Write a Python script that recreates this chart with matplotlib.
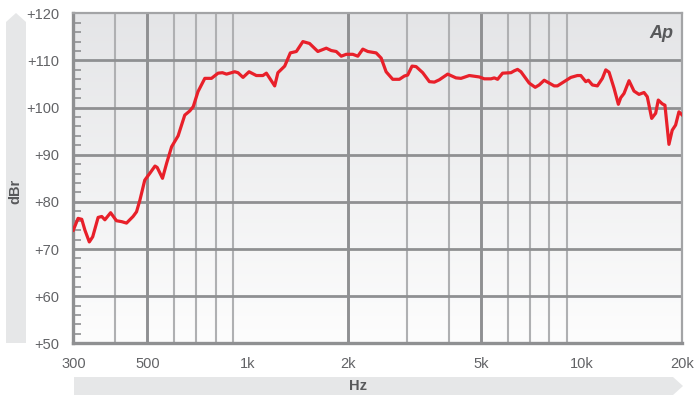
import numpy as np
import matplotlib
matplotlib.use("Agg")
import matplotlib.pyplot as plt
from matplotlib.patches import Polygon
from matplotlib.ticker import FixedLocator, NullLocator

plt.rcParams['font.family'] = ['Liberation Sans', 'DejaVu Sans']

# measured response (Hz, dBr)
freq = [300, 310, 318, 325, 335, 343, 356, 365, 373, 388, 404, 419, 433, 453, 464,
        475, 491, 509, 527, 535, 555, 571, 591, 618, 647, 670, 686, 709, 743, 778,
        814, 839, 863, 913, 934, 967, 1008, 1060, 1109, 1136, 1203, 1230, 1289,
        1340, 1397, 1461, 1530, 1620, 1717, 1777, 1839, 1904, 1970, 2062, 2134,
        2209, 2286, 2422, 2507, 2594, 2715, 2843, 2943, 3010, 3102, 3189, 3339,
        3496, 3618, 3745, 3966, 4200, 4348, 4604, 4932, 5106, 5347, 5470, 5596,
        5791, 6136, 6279, 6421, 6573, 6957, 7252, 7454, 7716, 7987, 8266, 8454,
        8854, 9271, 9703, 9932, 10279, 10465, 10757, 11134, 11527, 11799, 12069,
        12491, 12868, 13082, 13381, 13851, 14335, 14838, 15358, 15709, 16193,
        16644, 16946, 17416, 17744, 18241, 18657, 19099, 19540, 20000]
level = [74.0, 76.5, 76.3, 74.0, 71.5, 72.6, 76.7, 76.9, 76.2, 77.7, 76.0, 75.8,
         75.5, 76.9, 77.9, 80.4, 84.6, 86.1, 87.6, 87.3, 85.0, 88.2, 91.7, 94.0,
         98.4, 99.3, 100.2, 103.4, 106.2, 106.2, 107.3, 107.4, 107.1, 107.6, 107.4,
         106.4, 107.6, 106.8, 106.8, 107.3, 104.6, 107.4, 108.8, 111.6, 111.9,
         114.0, 113.6, 111.9, 112.6, 112.1, 111.9, 110.9, 111.3, 111.3, 110.9,
         112.4, 111.9, 111.6, 110.5, 107.6, 106.0, 106.0, 106.7, 106.9, 108.8,
         108.7, 107.4, 105.5, 105.4, 105.9, 107.1, 106.3, 106.2, 106.8, 106.5,
         106.1, 106.1, 106.3, 106.0, 107.3, 107.4, 107.8, 108.1, 107.6, 105.2,
         104.3, 104.8, 105.8, 105.2, 104.6, 104.6, 105.5, 106.4, 106.8, 106.8,
         105.5, 105.8, 104.8, 104.6, 106.2, 108.0, 107.5, 104.1, 100.7, 102.1,
         103.0, 105.7, 103.5, 102.8, 103.2, 102.3, 97.7, 98.8, 101.6, 100.8,
         100.5, 92.2, 95.2, 96.3, 99.1, 98.4]

x_ticks = [300, 500, 1000, 2000, 5000, 10000, 20000]
x_labels = ['300', '500', '1k', '2k', '5k', '10k', '20k']
y_ticks = [50, 60, 70, 80, 90, 100, 110, 120]
y_labels = ['+%d' % v for v in y_ticks]

W, H = 695, 396
fig = plt.figure(figsize=(W / 100, H / 100), dpi=100)
fig.patch.set_facecolor('white')

# plot area placed in pixels
x0, x1, y0, y1 = 73.3, 682.3, 13.3, 343.3
ax = fig.add_axes([x0 / W, 1 - y1 / H, (x1 - x0) / W, (y1 - y0) / H])
ax.set_xscale('log')
ax.set_xlim(300, 20000)
ax.set_ylim(50, 120)

# soft vertical gradient behind the grid
grad = np.linspace(0, 1, 256).reshape(-1, 1)
top = np.array([0.895, 0.898, 0.906])
bot = np.array([0.992, 0.992, 0.992])
img = top + (bot - top) * grad[:, :, None] * np.ones((1, 1, 3))
ax.imshow(img, extent=[0, 1, 0, 1], transform=ax.transAxes, aspect='auto', zorder=0)

light = '#afb0b2'
dark = '#8f9092'
for d in [100, 1000, 10000]:
    for m in range(2, 10):
        f = d * m
        if f <= 300 or f >= 20000:
            continue
        if f in (1000, 10000):
            ax.axvline(f, color=dark, lw=2.4, zorder=1)
        elif f in (500, 2000, 5000):
            ax.axvline(f, color=dark, lw=2.1, zorder=1)
        else:
            ax.axvline(f, color=light, lw=1.5, zorder=1)
for v in y_ticks[1:-1]:
    ax.axhline(v, color=dark, lw=2.0, zorder=1)

ax.plot(freq, level, color='#e8202a', lw=2.3, solid_joinstyle='round', zorder=3)

for side in ['left', 'bottom']:
    ax.spines[side].set_color(dark)
    ax.spines[side].set_linewidth(2.4)
for side in ['top', 'right']:
    ax.spines[side].set_color('#a3a4a6')
    ax.spines[side].set_linewidth(1.6)

ax.xaxis.set_major_locator(FixedLocator(x_ticks))
ax.xaxis.set_minor_locator(NullLocator())
ax.set_xticklabels(x_labels)
ax.set_yticks(y_ticks)
ax.set_yticklabels(y_labels)
ax.yaxis.set_minor_locator(FixedLocator([v for v in range(50, 121, 2) if v % 10]))
ax.tick_params(axis='both', which='major', length=0, labelsize=10.5,
               labelcolor='#626366')
ax.tick_params(axis='x', pad=10)
ax.tick_params(axis='y', pad=10)
ax.tick_params(axis='y', which='minor', direction='in', length=6, width=1.2,
               color=dark, left=True, right=False)

ax.text(0.985, 0.965, 'Ap', transform=ax.transAxes, ha='right', va='top',
        fontsize=13, fontweight='bold', style='italic', color='#58595b', zorder=4)

# arrow bands for the axis names, drawn in pixel space
ov = fig.add_axes([0, 0, 1, 1], zorder=-1)
ov.set_xlim(0, W)
ov.set_ylim(H, 0)
ov.axis('off')
band = '#e6e7e8'
ov.add_patch(Polygon([(6, 343), (6, 22), (16, 13), (26, 22), (26, 343)],
                     closed=True, color=band, lw=0))
ov.add_patch(Polygon([(74, 377), (673, 377), (683, 386), (673, 395), (74, 395)],
                     closed=True, color=band, lw=0))
ov.text(15, 191, 'dBr', rotation=90, ha='center', va='center', fontsize=10.5,
        fontweight='bold', color='#58595b')
ov.text(358, 386, 'Hz', ha='center', va='center', fontsize=10.5,
        fontweight='bold', color='#58595b')

fig.savefig('out.png', dpi=100)
